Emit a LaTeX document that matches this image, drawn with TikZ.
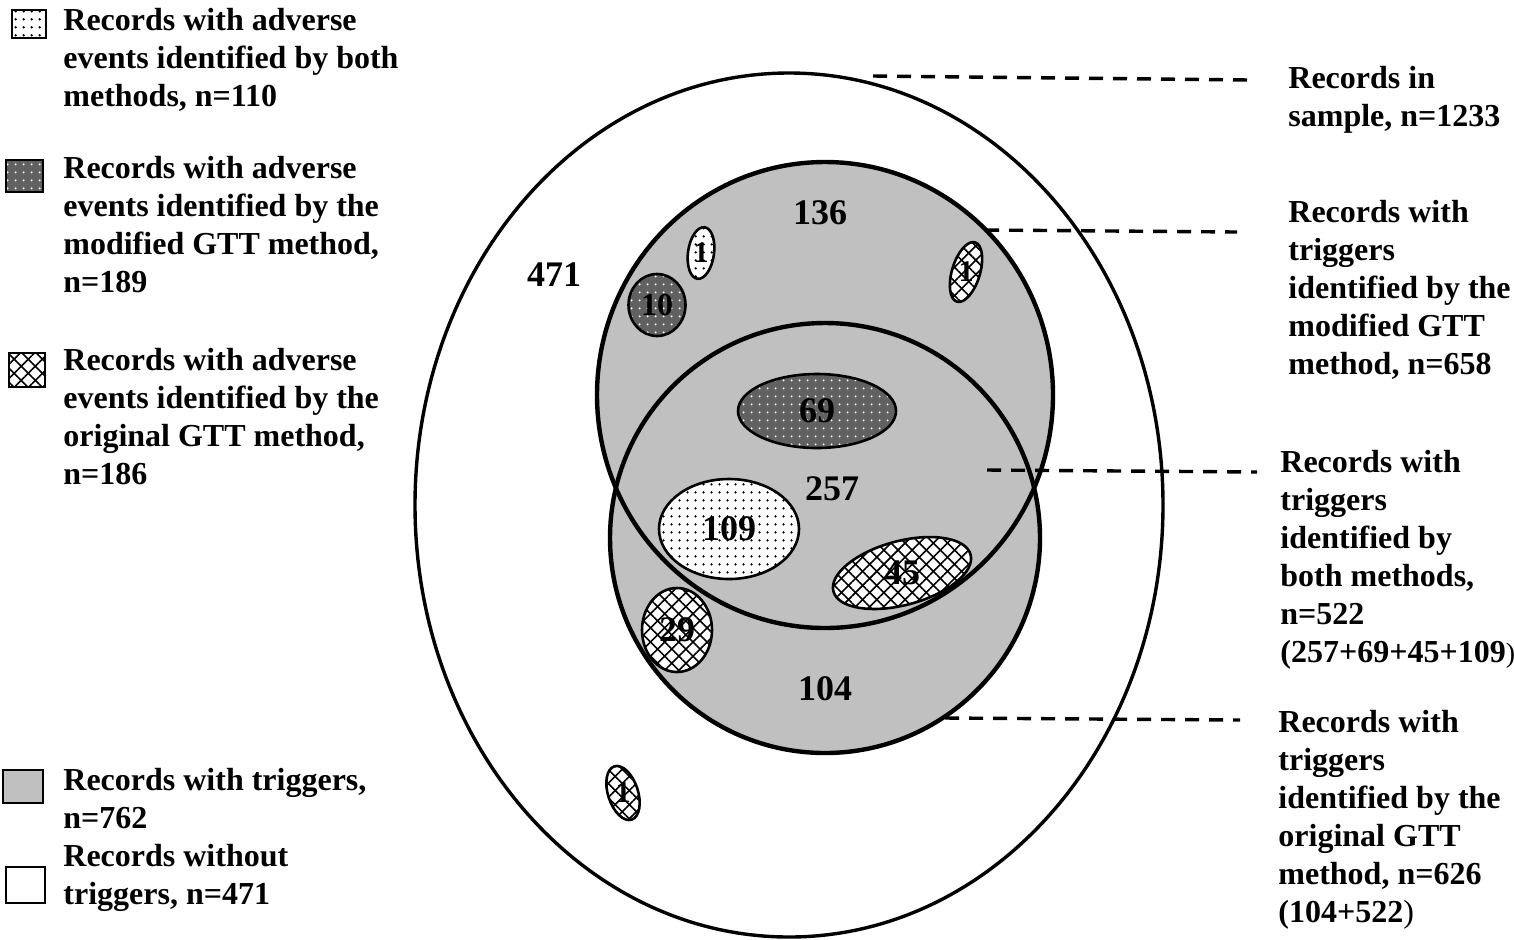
\documentclass[tikz,border=0pt]{standalone}
\usepackage{fontspec}
\setmainfont{Liberation Serif}
\usetikzlibrary{shapes.geometric, patterns.meta}
\definecolor{trigray}{RGB}{192,192,192}
\tikzstyle{legendtext} = [anchor=north west, align=left, inner sep=0pt, font=\fontsize{16}{19}\selectfont\bfseries]
\tikzstyle{count} = [inner sep=0pt, font=\fontsize{18}{18}\selectfont\bfseries]
\tikzstyle{smallcount} = [inner sep=0pt, font=\fontsize{15}{15}\selectfont\bfseries]
\tikzstyle{aeblob} = [ellipse, draw=black, line width=1.3pt, inner sep=0pt, font=\fontsize{18}{18}\selectfont\bfseries]
\tikzstyle{bothae} = [preaction={fill=white}, preaction={pattern={Dots[radius=0.7pt,distance=4pt]}}]
\tikzstyle{modae} = [preaction={fill=black!62}, preaction={pattern={Dots[radius=0.6pt,distance=4pt]}, pattern color=white}]
\tikzstyle{origae} = [preaction={fill=white}, preaction={pattern={Lines[angle=45,distance=5pt,line width=0.8pt]}}, preaction={pattern={Lines[angle=-45,distance=5pt,line width=0.8pt]}}]
\tikzstyle{legendbox} = [rectangle, draw=black, line width=1.3pt, inner sep=0pt]
\tikzstyle{ringline} = [draw=black, line width=2.2pt]
\tikzstyle{leader} = [line width=1.7pt, dash pattern=on 7pt off 5pt]

\begin{document}
\begin{tikzpicture}[x=0.5pt, y=-0.5pt]
    \useasboundingbox (0,0) rectangle (1514,939);

      \draw [line width=1.7pt] (789,505) ellipse [x radius=374, y radius=432];
      \fill [trigray] (825,395) ellipse [x radius=228, y radius=233];
      \fill [trigray] (825,538) ellipse [x radius=215, y radius=215];
      \draw [ringline] (825,395) ellipse [x radius=228, y radius=233];
      \draw [ringline] (825,538) ellipse [x radius=215, y radius=215];

      \node (nnone) [count] at (554,275) {471};
      \node (nmod) [count] at (820,213) {136};
      \node (nboth) [count] at (832,489) {257};
      \node (norig) [count] at (825,689) {104};

      \node (aetop) [aeblob, bothae, minimum width=13pt, minimum height=26pt, rotate=-8, label={[smallcount]center:1}] at (701,253) {};
      \node (aeten) [aeblob, modae, minimum width=28.5pt, minimum height=31pt, font=\fontsize{16}{16}\selectfont\bfseries] at (657,305) {10};
      \node (aeright) [aeblob, origae, minimum width=14pt, minimum height=31pt, rotate=-17, label={[smallcount]center:1}] at (966,272) {};
      \node (aesixtynine) [aeblob, modae, minimum width=79pt, minimum height=37pt] at (817,411) {69};
      \node (aeonenine) [aeblob, bothae, minimum width=70pt, minimum height=50pt] at (729,529) {109};
      \node (aefortyfive) [aeblob, origae, minimum width=71pt, minimum height=32pt, rotate=15, label={[count]center:45}] at (902,573) {};
      \node (aetwentynine) [aeblob, origae, minimum width=35pt, minimum height=42pt] at (677,630) {29};
      \node (aeoutside) [aeblob, origae, minimum width=15pt, minimum height=28pt, rotate=18, label={[smallcount]center:1}] at (623,793) {};

      \node (keyboth) [legendbox, bothae, minimum width=17pt, minimum height=14pt] at (29,24) {};
      \node (keymod) [legendbox, modae, minimum width=18.5pt, minimum height=16pt] at (24.5,176) {};
      \node (keyorig) [legendbox, origae, minimum width=18pt, minimum height=17pt] at (27,370) {};
      \node (keytrig) [legendbox, fill=trigray, minimum width=20pt, minimum height=16.5pt] at (23,786.5) {};
      \node (keynone) [legendbox, fill=white, minimum width=19.5pt, minimum height=18pt] at (25.5,885) {};

      \node (lgboth) [legendtext] at (63,8) {Records with adverse\\events identified by both\\methods, n=110};
      \node (lgmod) [legendtext] at (63,156) {Records with adverse\\events identified by the\\modified GTT method,\\n=189};
      \node (lgorig) [legendtext] at (63,348) {Records with adverse\\events identified by the\\original GTT method,\\n=186};
      \node (lgtrig) [legendtext] at (63,768) {Records with triggers,\\n=762};
      \node (lgnone) [legendtext] at (63,844) {Records without\\triggers, n=471};

      \node (lbsample) [legendtext] at (1288,66) {Records in\\sample, n=1233};
      \node (lbmod) [legendtext] at (1288,200) {Records with\\triggers\\identified by the\\modified GTT\\method, n=658};
      \node (lbboth) [legendtext] at (1280,450) {Records with\\triggers\\identified by\\both methods,\\n=522\\(257+69+45+109{\mdseries\fontsize{14}{14}\selectfont)}};
      \node (lborig) [legendtext] at (1278,710) {Records with\\triggers\\identified by the\\original GTT\\method, n=626\\(104+522{\mdseries)}};

      \coordinate (samplefoot) at (873,76);
      \coordinate (samplehead) at (1250,80);
      \coordinate (modfoot) at (985,230);
      \coordinate (modhead) at (1237,232);
      \coordinate (bothfoot) at (987,470);
      \coordinate (bothhead) at (1257,472);
      \coordinate (origfoot) at (945,718);
      \coordinate (orighead) at (1240,720);
      \draw [leader] (samplefoot) -- (samplehead);
      \draw [leader] (modfoot) -- (modhead);
      \draw [leader] (bothfoot) -- (bothhead);
      \draw [leader] (origfoot) -- (orighead);
    \end{tikzpicture}
\end{document}
